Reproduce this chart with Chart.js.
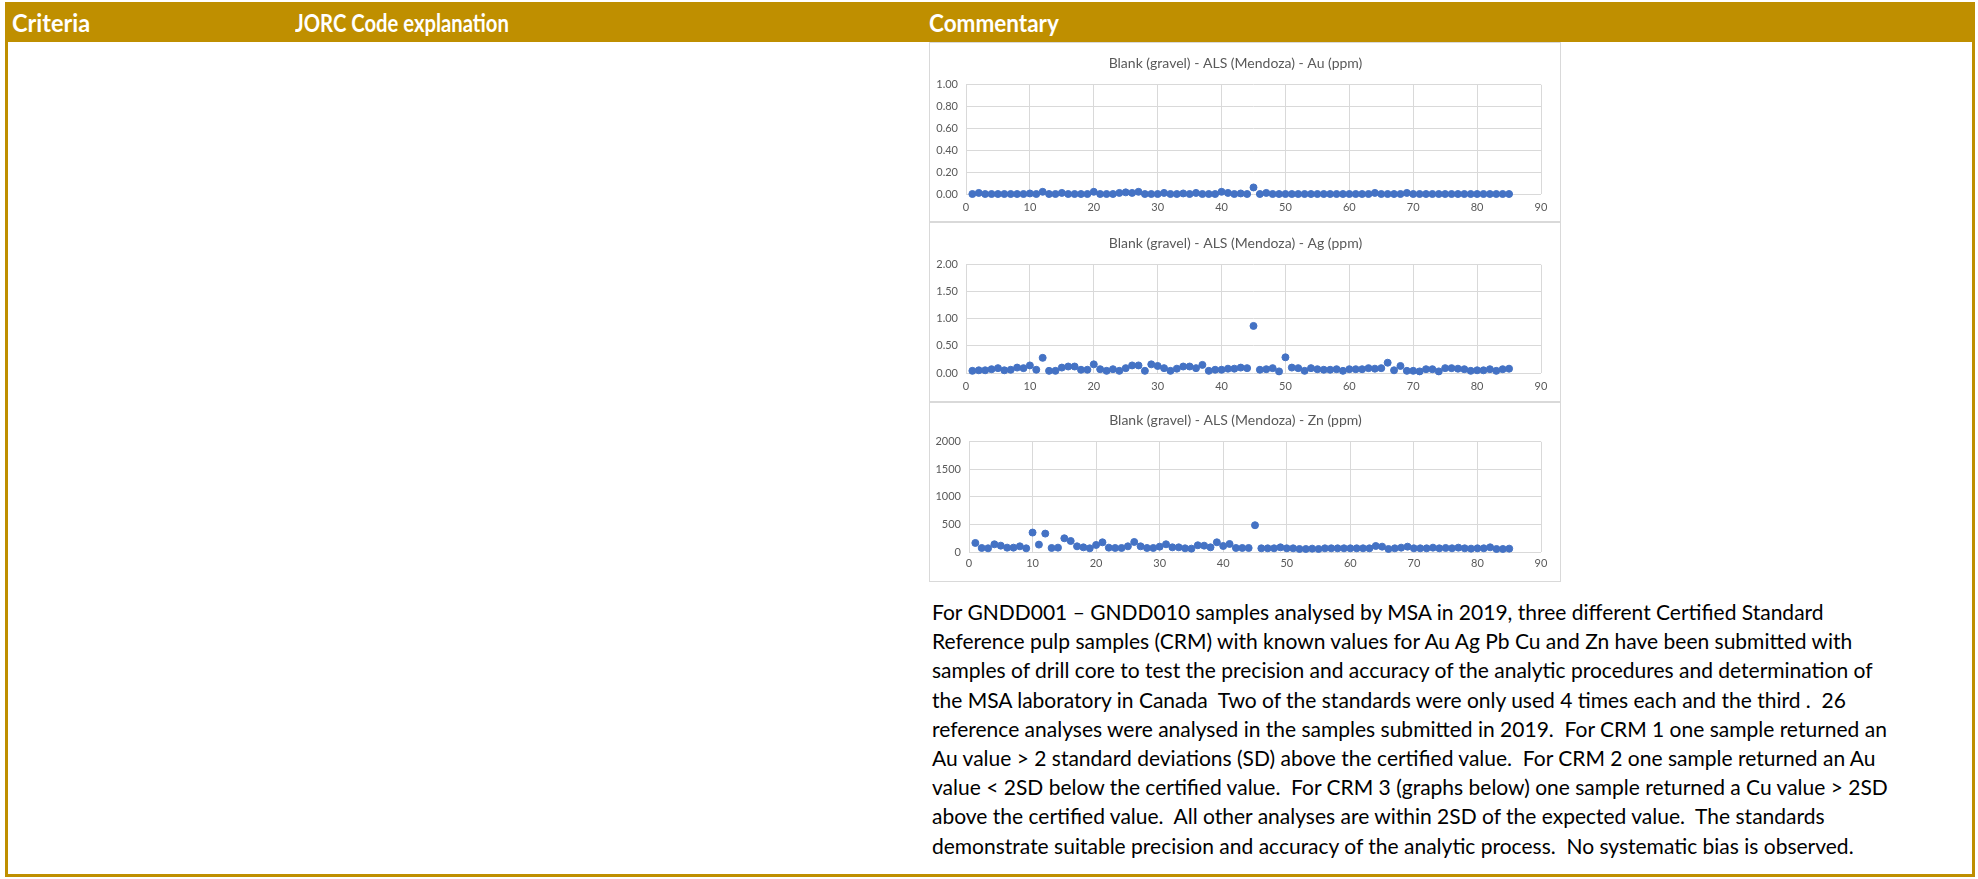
<!DOCTYPE html>
<html>
<head>
<meta charset="utf-8">
<script src="https://cdn.jsdelivr.net/npm/chart.js@4.4.1/dist/chart.umd.min.js"></script>
<style>
  body { margin: 0; background: #fff; font-family: Lato, 'Open Sans', sans-serif; }
  #page { position: relative; width: 1978px; height: 879px; overflow: hidden; }
  #table { position: absolute; left: 5px; top: 2px; width: 1970px; height: 875px; box-sizing: border-box;
           border: 3px solid #bf8f00; border-top: none; }
  #head { position: absolute; left: 5px; top: 2px; width: 1970px; height: 40px; background: #bf8f00; }
  .th { position: absolute; top: 5px; color: #fff; font-weight: bold; font-size: 25px; line-height: 30px;
        transform-origin: left center; white-space: pre; }
  .chartBox { position: absolute; left: 929px; width: 630px; height: 178px; border: 1px solid #d9d9d9; }
  .chartBox canvas { display: block; }
  #text { position: absolute; left: 932px; top: 597px; font-size: 21px; line-height: 29.2px; color: #000; }
  #text div { white-space: pre; }
</style>
</head>
<body>
<div id="page">
  <div id="table"></div>
  <div id="head">
    <div class="th" style="left:7px; transform: scaleX(0.94)">Criteria</div>
    <div class="th" style="left:290px; transform: scaleX(0.81)">JORC Code explanation</div>
    <div class="th" style="left:924px; transform: scaleX(0.9)">Commentary</div>
  </div>
  <div class="chartBox" style="top:42px"><canvas id="chartAu" width="630" height="178"></canvas></div>
  <div class="chartBox" style="top:222px"><canvas id="chartAg" width="630" height="178"></canvas></div>
  <div class="chartBox" style="top:402px"><canvas id="chartZn" width="630" height="178"></canvas></div>
  <div id="text">
    <div>For GNDD001 – GNDD010 samples analysed by MSA in 2019, three different Certified Standard</div>
    <div>Reference pulp samples (CRM) with known values for Au Ag Pb Cu and Zn have been submitted with</div>
    <div>samples of drill core to test the precision and accuracy of the analytic procedures and determination of</div>
    <div>the MSA laboratory in Canada  Two of the standards were only used 4 times each and the third .  26</div>
    <div>reference analyses were analysed in the samples submitted in 2019.  For CRM 1 one sample returned an</div>
    <div>Au value &gt; 2 standard deviations (SD) above the certified value.  For CRM 2 one sample returned an Au</div>
    <div>value &lt; 2SD below the certified value.  For CRM 3 (graphs below) one sample returned a Cu value &gt; 2SD</div>
    <div>above the certified value.  All other analyses are within 2SD of the expected value.  The standards</div>
    <div>demonstrate suitable precision and accuracy of the analytic process.  No systematic bias is observed.</div>
  </div>
</div>
<script>
// numero da amostra (eixo x), 1..85
const sampleNo = [
  1, 2, 3, 4, 5, 6, 7, 8, 9, 10, 11, 12, 13, 14, 15, 16, 17, 18, 19, 20,
  21, 22, 23, 24, 25, 26, 27, 28, 29, 30, 31, 32, 33, 34, 35, 36, 37, 38, 39, 40,
  41, 42, 43, 44, 45, 46, 47, 48, 49, 50, 51, 52, 53, 54, 55, 56, 57, 58, 59, 60,
  61, 62, 63, 64, 65, 66, 67, 68, 69, 70, 71, 72, 73, 74, 75, 76, 77, 78, 79, 80,
  81, 82, 83, 84, 85,
];

// Au (ppm) - branco de cascalho, ALS Mendoza
const auPpm = [
  0, 0.01, 0, 0, 0, 0, 0, 0, 0, 0.005,
  0, 0.02, 0, 0, 0.01, 0, 0, 0, 0, 0.02,
  0, 0, 0, 0.01, 0.015, 0.01, 0.02, 0, 0, 0,
  0.01, 0, 0, 0.005, 0, 0.01, 0, 0, 0, 0.02,
  0.01, 0, 0.005, 0, 0.06, 0, 0.01, 0, 0, 0,
  0, 0, 0, 0, 0, 0, 0, 0, 0, 0,
  0, 0, 0, 0.01, 0, 0, 0, 0, 0.01, 0,
  0, 0, 0, 0, 0, 0, 0, 0, 0, 0,
  0, 0, 0, 0, 0,
];

// Ag (ppm)
const agPpm = [
  0.04, 0.05, 0.05, 0.07, 0.09, 0.05, 0.06, 0.10, 0.09, 0.14,
  0.06, 0.28, 0.04, 0.04, 0.10, 0.12, 0.12, 0.06, 0.06, 0.16,
  0.07, 0.04, 0.07, 0.04, 0.09, 0.14, 0.14, 0.04, 0.16, 0.13,
  0.09, 0.04, 0.08, 0.12, 0.12, 0.09, 0.15, 0.04, 0.06, 0.06,
  0.08, 0.08, 0.10, 0.09, 0.87, 0.06, 0.07, 0.09, 0.03, 0.29,
  0.10, 0.09, 0.04, 0.09, 0.07, 0.06, 0.06, 0.07, 0.04, 0.07,
  0.07, 0.07, 0.09, 0.08, 0.09, 0.19, 0.05, 0.13, 0.04, 0.04,
  0.03, 0.07, 0.07, 0.03, 0.09, 0.09, 0.08, 0.07, 0.04, 0.05,
  0.05, 0.07, 0.04, 0.07, 0.08,
];

// Zn (ppm)
const znPpm = [
  164, 73, 67, 140, 115, 79, 79, 103, 67, 353,
  134, 334, 73, 79, 249, 200, 103, 85, 67, 128,
  176, 79, 73, 73, 103, 182, 103, 73, 73, 97,
  140, 85, 85, 67, 61, 122, 115, 85, 176, 109,
  146, 73, 73, 73, 486, 67, 67, 67, 85, 67,
  67, 55, 55, 61, 55, 67, 67, 67, 67, 67,
  67, 67, 67, 109, 97, 55, 67, 79, 97, 67,
  67, 67, 79, 67, 73, 67, 79, 67, 61, 67,
  67, 85, 55, 55, 61,
];

const FONT = 'Lato, "Open Sans", sans-serif';
const GRID = '#d9d9d9';
const LABEL = '#595959';

// lay: ajustes finos de posicao de cada grafico (titulo, area de plotagem)
function drawBlankChart(id, title, values, yMax, yStep, decimals, lay) {
  new Chart(document.getElementById(id), {
    type: 'scatter',
    data: {
      datasets: [{
        data: sampleNo.map((x, i) => ({ x, y: values[i] })),
        backgroundColor: '#4472c4',
        borderColor: '#4472c4',
        pointRadius: 3.5,
        pointHoverRadius: 3.5,
        clip: false,
      }],
    },
    options: {
      responsive: false,
      animation: false,
      devicePixelRatio: 1,
      layout: { padding: { left: 0, right: 19, top: 0, bottom: 0 } },
      plugins: {
        legend: { display: false },
        tooltip: { enabled: false },
        title: {
          display: true,
          text: title,
          color: LABEL,
          font: { family: FONT, size: 14, weight: 'normal' },
          padding: { top: lay.titleTop, bottom: 13 },
        },
      },
      scales: {
        x: {
          type: 'linear',
          min: 0,
          max: 90,
          ticks: { stepSize: 10, color: LABEL, font: { family: FONT, size: 11 }, padding: lay.xPad },
          grid: { color: GRID, drawTicks: false },
          border: { display: false },
          afterFit: (s) => { s.height = lay.xHeight; },
        },
        y: {
          min: 0,
          max: yMax,
          ticks: { stepSize: yStep, color: LABEL, font: { family: FONT, size: 11 }, padding: 8,
                   callback: (v) => Number(v).toFixed(decimals) },
          grid: { color: GRID, drawTicks: false },
          border: { display: false },
          afterFit: (s) => { s.width = lay.yWidth; },
        },
      },
    },
  });
}

drawBlankChart('chartAu', 'Blank (gravel) - ALS (Mendoza) - Au (ppm)', auPpm, 1, 0.2, 2,
  { titleTop: 12, xPad: 7, xHeight: 27, yWidth: 36 });
drawBlankChart('chartAg', 'Blank (gravel) - ALS (Mendoza) - Ag (ppm)', agPpm, 2, 0.5, 2,
  { titleTop: 12, xPad: 7, xHeight: 28, yWidth: 36 });
drawBlankChart('chartZn', 'Blank (gravel) - ALS (Mendoza) - Zn (ppm)', znPpm, 2000, 500, 0,
  { titleTop: 9, xPad: 5, xHeight: 29, yWidth: 39 });
</script>
</body>
</html>
